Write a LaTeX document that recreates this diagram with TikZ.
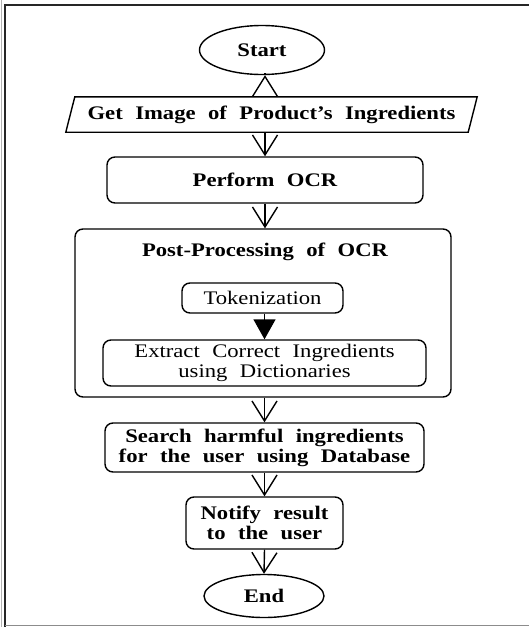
\documentclass[tikz,border=0pt]{standalone}
\usepackage{fontspec}
\setmainfont{Liberation Serif}[FakeStretch=1.18,WordSpace=2.2]
\usetikzlibrary{arrows.meta,shapes.geometric}
\tikzset{
  lw/.style={line width=1.4pt},
  lbl/.style={font=\fontsize{19.2}{20}\selectfont, align=center, inner sep=0pt},
  boxnode/.style={lbl, lw, draw, rounded corners=8pt, minimum width=#1},
  termnode/.style={lbl, lw, draw, ellipse},
  arr/.style={lw, -{Straight Barb[length=20pt,width=25pt,line width=1.4pt]}},
  farr/.style={lw, -{Triangle[length=20pt,width=22pt]}},
}
\begin{document}
\begin{tikzpicture}[x=1pt,y=-1pt]
\useasboundingbox (0,0) rectangle (529,627);
% outer frame
\draw[line width=1.6pt, black!85] (529,5) -- (5,5) -- (5,627);
\draw[line width=1.2pt, black!45] (5,625.5) -- (529,625.5);
\draw[line width=0.6pt, black!30] (1,0) -- (1,627);

\node[termnode, minimum width=125pt, minimum height=49pt] (start) at (262,50) {\bfseries Start};
\node[lbl, minimum width=402pt, minimum height=35pt] (get) at (271.5,114.5)
      {\bfseries Get Image of Product’s Ingredients};
\draw[lw] ([xshift=-4.5pt]get.south west) -- ([xshift=-4.5pt]get.south east)
          -- ([xshift=4.5pt]get.north east) -- ([xshift=4.5pt]get.north west) -- cycle;
\node[boxnode=316pt, minimum height=46pt] (ocr) at (265,180) {\bfseries Perform OCR};
\node[boxnode=376pt, minimum height=168pt] (post) at (263,313) {};
\node[lbl] (ptitle) at (265,252) {\bfseries Post-Processing of OCR};
\node[boxnode=161pt, minimum height=30pt] (tok) at (262.5,298) {Tokenization};
\node[boxnode=323pt, minimum height=46pt] (ext) at (264.5,363) {Extract Correct Ingredients\\using Dictionaries};
\node[boxnode=319pt, minimum height=49pt] (search) at (264.5,447.5) {\bfseries Search harmful ingredients\\\bfseries for the user using Database};
\node[boxnode=157pt, minimum height=52pt] (notify) at (264.5,523) {\bfseries Notify result\\\bfseries to the user};
\node[termnode, minimum width=120pt, minimum height=43pt] (end) at (264,596) {\bfseries End};

\draw[arr] (start.south -| ocr.north) -- (start.south -| ocr.north |- get.north);
\draw[arr] (ocr.north |- get.south) -- (ocr.north);
\draw[arr] (ocr.south) -- (ocr.south |- post.north);
\draw[farr] (tok.south -| ext.north) -- (ext.north);
\draw[arr] (search.north |- post.south) -- (search.north);
\draw[arr] (search.south) -- (notify.north);
\draw[arr] (notify.south) -- (end.north);
\end{tikzpicture}
\end{document}
